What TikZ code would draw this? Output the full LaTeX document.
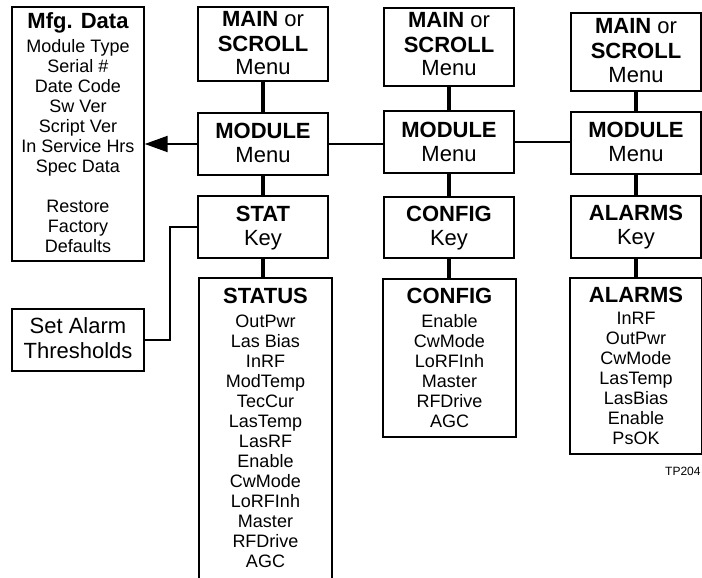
\documentclass[tikz,border=0pt]{standalone}
\usepackage{fontspec}
\setmainfont{Liberation Sans}
\usetikzlibrary{arrows.meta,calc}
\tikzset{
  menubox/.style={draw,line width=2pt,inner sep=0pt,minimum width=130pt,align=center,anchor=base,font=\fontsize{22}{24}\selectfont},
  listbox/.style={draw,line width=1.4pt,inner sep=0pt,align=center,anchor=base,font=\fontsize{18}{20}\selectfont},
  trunk/.style={line width=4pt},
  link/.style={line width=1.6pt},
  arrow/.style={-{Triangle[length=23pt,width=16pt]},line width=2pt}
}
\newcommand{\boxtitle}[1]{{\fontsize{22}{24}\selectfont\bfseries #1}}

\begin{document}
\begin{tikzpicture}[x=1pt,y=-1pt]
\useasboundingbox (0,0) rectangle (702,578);
\clip (0,0) rectangle (702,578);
% menu columns (placed at the baseline of the last line)
\node[menubox,text height=68pt,text depth=6pt] (main1) at (263,75) {\textbf{MAIN} or\\\textbf{SCROLL}\\Menu};
\node[menubox,text height=68pt,text depth=10pt] (main2) at (449,76) {\textbf{MAIN} or\\\textbf{SCROLL}\\Menu};
\node[menubox,text height=69pt,text depth=9pt] (main3) at (636,82) {\textbf{MAIN} or\\\textbf{SCROLL}\\Menu};
\node[menubox,text height=49pt,text depth=13pt] (mod1) at (263,162) {\textbf{MODULE}\\Menu};
\node[menubox,text height=50pt,text depth=12pt] (mod2) at (449,161) {\textbf{MODULE}\\Menu};
\node[menubox,text height=49pt,text depth=13pt] (mod3) at (636,161) {\textbf{MODULE}\\Menu};
\node[menubox,text height=49pt,text depth=13pt] (stat) at (263,245) {\textbf{STAT}\\Key};
\node[menubox,text height=48pt,text depth=13pt] (cfgkey) at (449,245) {\textbf{CONFIG}\\Key};
\node[menubox,text height=48pt,text depth=14pt] (almkey) at (636,244) {\textbf{ALARMS}\\Key};
% lists
\node[listbox,minimum width=133pt,text height=289pt,text depth=23pt] (status) at (265.5,567) {\boxtitle{STATUS}\\[4pt]OutPwr\\Las Bias\\InRF\\ModTemp\\TecCur\\LasTemp\\LasRF\\Enable\\CwMode\\LoRFInh\\Master\\RFDrive\\AGC};
\node[listbox,minimum width=133pt,text height=148pt,text depth=10pt] (cfglist) at (449.5,427) {\boxtitle{CONFIG}\\[4pt]Enable\\CwMode\\LoRFInh\\Master\\RFDrive\\AGC};
\node[listbox,minimum width=132pt,text height=166pt,text depth=10pt] (almlist) at (636,444) {\boxtitle{ALARMS}\\[2pt]InRF\\OutPwr\\CwMode\\LasTemp\\LasBias\\Enable\\PsOK};
\node[listbox,minimum width=132pt,text height=245pt,text depth=9pt] (mfg) at (78,252) {\boxtitle{Mfg. Data}\\[4pt]Module Type\\Serial \#\\Date Code\\Sw Ver\\Script Ver\\In Service Hrs\\Spec Data\\[20pt]Restore\\Factory\\Defaults};
\node[listbox,minimum width=132pt,text height=49pt,text depth=13pt,font=\fontsize{22}{25}\selectfont] (setal) at (78,358) {Set Alarm\\Thresholds};
\node[anchor=base west,inner sep=0pt,font=\fontsize{12}{14}\selectfont] (tag) at (665,475) {TP204};
% connectors
\draw[trunk] (main1) -- (mod1);
\draw[trunk] (mod1) -- (stat);
\draw[trunk] (stat.south) -- (stat.south |- status.north);
\draw[trunk] (main2) -- (mod2);
\draw[trunk] (mod2) -- (cfgkey);
\draw[trunk] (cfgkey.south) -- (cfgkey.south |- cfglist.north);
\draw[trunk] (main3) -- (mod3);
\draw[trunk] (mod3) -- (almkey);
\draw[trunk] (almkey.south) -- (almkey.south |- almlist.north);
\draw[link] (mod1.east) -- (mod1.east -| mod2.west);
\draw[link] (mod2.east) -- (mod2.east -| mod3.west);
\draw[arrow] (mod1.west) -- (mod1.west -| mfg.east);
\draw[link,line width=2pt] (stat.west) -- ++(-27,0) |- (setal.east);
\end{tikzpicture}
\end{document}
